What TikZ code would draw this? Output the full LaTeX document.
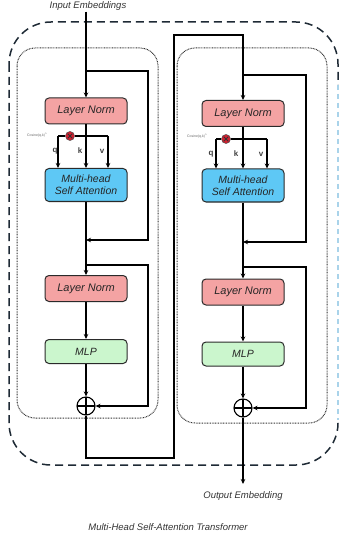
\documentclass[tikz,border=0pt]{standalone}
\usepackage{fontspec}
\setmainfont{Liberation Sans}
\usetikzlibrary{arrows.meta}
\definecolor{lnfill}{HTML}{F4A3A3}
\definecolor{mhfill}{HTML}{5EC8F5}
\definecolor{mlpfill}{HTML}{CBF6CD}
\definecolor{edge}{HTML}{2A2A2A}
\definecolor{outer}{HTML}{1E2A35}
\definecolor{paleblue}{HTML}{A9D3EA}
\definecolor{xred}{HTML}{D42030}
\begin{document}
\begin{tikzpicture}[x=1pt,y=-1pt,
  blk/.style={draw=edge, line width=1pt, rounded corners=4pt, minimum width=82pt, inner sep=1pt, align=center, text=black!85},
  lnbox/.style={blk, fill=lnfill, minimum height=26pt, font=\itshape\fontsize{11}{12}\selectfont},
  mhbox/.style={blk, fill=mhfill, minimum height=33pt, font=\itshape\fontsize{10.5}{12}\selectfont},
  mlpbox/.style={blk, fill=mlpfill, minimum height=24pt, font=\itshape\fontsize{10.5}{12}\selectfont},
  arr/.style={-{Stealth[length=5pt,width=4.5pt]}, line width=1.15pt, draw=black},
  con/.style={line width=1.15pt, draw=black},
  plusnode/.style={circle, draw=black, line width=1.1pt, minimum size=18pt, inner sep=0pt,
    path picture={\draw[line width=1.1pt] (path picture bounding box.north) -- (path picture bounding box.south)
      (path picture bounding box.west) -- (path picture bounding box.east);}},
  xnode/.style={circle, fill=xred, draw=black!70, line width=0.5pt, minimum size=9pt, inner sep=0pt,
    path picture={\draw[line width=0.8pt, black!80] ([shift={(-2.3pt,-2.3pt)}]path picture bounding box.center) -- ([shift={(2.3pt,2.3pt)}]path picture bounding box.center)
      ([shift={(-2.3pt,2.3pt)}]path picture bounding box.center) -- ([shift={(2.3pt,-2.3pt)}]path picture bounding box.center);}},
  qkv/.style={font=\bfseries\fontsize{8}{9}\selectfont, text=black!75, inner sep=0pt},
  coslbl/.style={font=\fontsize{3.5}{4}\selectfont, text=black!60, inner sep=0pt},
  caption/.style={font=\itshape\fontsize{9.5}{11}\selectfont, text=black!80, inner sep=1pt},
  dotbox/.style={draw=black!80, line width=1pt, dash pattern=on 0.8pt off 0.8pt, rounded corners=18pt},
]
\useasboundingbox (0,0) rectangle (342,537);

% outer dashed container
\draw[outer, line width=1.5pt, dash pattern=on 8pt off 5pt, rounded corners=42pt] (9,22) rectangle (338,465);
\draw[white, line width=3pt] (338,85) -- (338,420);
\draw[paleblue, line width=1.2pt, dash pattern=on 5pt off 4pt] (338,85) -- (338,420);

% inner dotted blocks
\draw[dotbox] (17,48) rectangle (158,418);
\draw[dotbox] (177,48) rectangle (327,423);

% texts
\node[caption] (in) at (88,6) {Input Embeddings};
\node[caption] (out) at (243,496) {Output Embedding};
\node[caption] (title) at (168,527) {Multi-Head Self-Attention Transformer};

% ---------- left block ----------
\node[lnbox] (ln1a) at (86,111) {Layer Norm};
\node[mhbox] (mh1) at (86,185) {Multi-head\\Self Attention};
\node[lnbox] (ln1b) at (86,288.5) {Layer Norm};
\node[mlpbox] (mlp1) at (86,351.5) {MLP};
\node[plusnode] (p1) at (86,406) {};

\coordinate (b1) at (86,71);
\coordinate (b1r) at (148,71);
\coordinate (j1) at (86,240);
\coordinate (b2) at (86,265);
\coordinate (b2r) at (148,265);
\coordinate (q1) at (58,136);
\coordinate (v1) at (108,136);
\node[xnode] (x1) at (70,136) {};
\node[coslbl] (cos1) at (37,135) {Cosine(q,k)\textsuperscript{n}};

\draw[arr] (in.south -| ln1a.north) -- (ln1a.north);
\draw[arr] (b1) -- (b1r) |- (j1);
\draw[arr] (ln1a.south) -- (mh1.north);
\draw[con] (q1) -- (x1.west);
\draw[con] (x1.east) -- (v1);
\draw[arr] (q1) -- (q1 |- mh1.north);
\draw[arr] (v1) -- (v1 |- mh1.north);
\node[qkv] at (55,151) {q};
\node[qkv] at (80,151) {k};
\node[qkv] at (102,151) {v};
\draw[arr] (mh1.south) -- (ln1b.north);
\draw[arr] (b2) -- (b2r) |- (p1.east);
\draw[arr] (ln1b.south) -- (mlp1.north);
\draw[arr] (mlp1.south) -- (p1.north);

% connection between blocks
\coordinate (c1) at (86,458);
\coordinate (c2) at (174,458);
\coordinate (c3) at (174,35);
\coordinate (c4) at (243,35);

% ---------- right block ----------
\node[lnbox] (ln2a) at (243,113.5) {Layer Norm};
\node[mhbox] (mh2) at (243,185.5) {Multi-head\\Self Attention};
\node[lnbox] (ln2b) at (243,292) {Layer Norm};
\node[mlpbox] (mlp2) at (243,354) {MLP};
\node[plusnode] (p2) at (243,408) {};

\draw[arr] (p1.south) -- (c1) -- (c2) -- (c3) -- (c4) -- (ln2a.north);

\coordinate (b3) at (243,75);
\coordinate (b3r) at (306,75);
\coordinate (j2) at (243,242);
\coordinate (b4) at (243,267);
\coordinate (b4r) at (306,267);
\coordinate (q2) at (216,139);
\coordinate (v2) at (267,139);
\node[xnode] (x2) at (226,139) {};
\node[coslbl] (cos2) at (197,136) {Cosine(q,k)\textsuperscript{n}};

\draw[arr] (b3) -- (b3r) |- (j2);
\draw[arr] (ln2a.south) -- (mh2.north);
\draw[con] (q2) -- (x2.west);
\draw[con] (x2.east) -- (v2);
\draw[arr] (q2) -- (q2 |- mh2.north);
\draw[arr] (v2) -- (v2 |- mh2.north);
\node[qkv] at (211,154) {q};
\node[qkv] at (236,154) {k};
\node[qkv] at (261,154) {v};
\draw[arr] (mh2.south) -- (ln2b.north);
\draw[arr] (b4) -- (b4r) |- (p2.east);
\draw[arr] (ln2b.south) -- (mlp2.north);
\draw[arr] (mlp2.south) -- (p2.north);

\coordinate (oe) at (243,484);
\draw[arr] (p2.south) -- (oe);
\end{tikzpicture}
\end{document}
